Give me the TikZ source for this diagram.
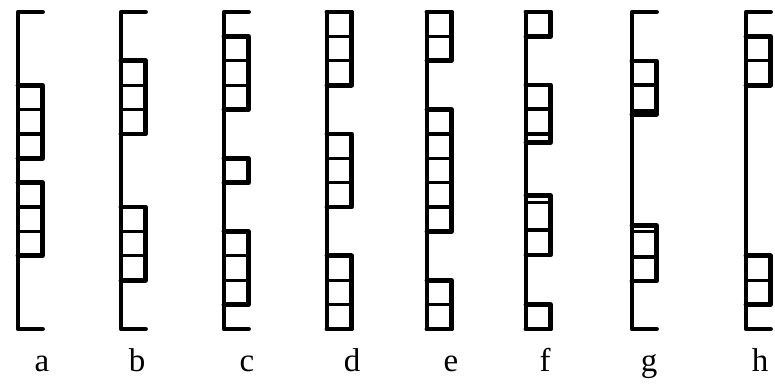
\documentclass[tikz,border=0pt]{standalone}
\usepackage{fontspec}
\newfontfamily\lblfont{Liberation Serif}
\usetikzlibrary{calc}
\tikzset{
  outl/.style={line width=4.8pt, line cap=round, line join=round, black},
  divl/.style={line width=3.2pt, black},
  lbl/.style={font=\lblfont\fontsize{33}{33}\selectfont, anchor=base, inner sep=0pt}
}
\newcommand\U{24.385}
\newcommand\W{24.5}
% spine: x
\newcommand\spine[1]{\draw[outl] ({#1+\W},12) -- (#1,12) -- (#1,329) -- ({#1+\W},329);}
% cell group by units: x, u1, u2
\newcommand\grp[3]{%
  \draw[outl] (#1,{12+#2*\U}) -- ({#1+\W},{12+#2*\U}) -- ({#1+\W},{12+#3*\U}) -- (#1,{12+#3*\U});
  \pgfmathtruncatemacro\ga{#2+1}\pgfmathtruncatemacro\gb{#3-1}%
  \ifnum\ga>\gb\else
  \foreach \k in {\ga,...,\gb} {\draw[divl] (#1,{12+\k*\U}) -- ({#1+\W},{12+\k*\U});}
  \fi}
% cell group by pixel coords: x, y1, y2, dividers list
\newcommand\grpp[4]{%
  \draw[outl] (#1,#2) -- ({#1+\W},#2) -- ({#1+\W},#3) -- (#1,#3);
  \foreach \d in {#4} {\draw[divl] (#1,\d) -- ({#1+\W},\d);}}
\begin{document}
\begin{tikzpicture}[x=1pt,y=-1pt]
\useasboundingbox (0,0) rectangle (775,384);
% a
\spine{18}\grp{18}{3}{6}\grp{18}{7}{10}
% b
\spine{121}\grp{121}{2}{5}\grp{121}{8}{11}
% c
\spine{224}\grp{224}{1}{4}\grp{224}{6}{7}\grp{224}{9}{12}
% d
\spine{327}\grp{327}{0}{3}\grp{327}{5}{8}\grp{327}{10}{13}
% e
\spine{427}\grp{427}{0}{2}\grp{427}{4}{9}\grp{427}{11}{13}
% f
\spine{526}\grp{526}{0}{1}
\grpp{526}{85}{142.5}{109,134}
\grpp{526}{195.5}{255}{202.5,230}
\grp{526}{12}{13}
% g
\spine{632}
\grpp{632}{61}{114.5}{85,111}
\grpp{632}{225.5}{281}{231.5,257}
% h
\spine{746}\grp{746}{1}{3}\grp{746}{10}{12}
% labels
\node[lbl] (la) at (42,371) {a};
\node[lbl] (lb) at (137,371) {b};
\node[lbl] (lc) at (247,371) {c};
\node[lbl] (ld) at (352,371) {d};
\node[lbl] (le) at (451,371) {e};
\node[lbl] (lf) at (545,371) {f};
\node[lbl] (lg) at (649,371) {g};
\node[lbl] (lh) at (760,371) {h};
\end{tikzpicture}
\end{document}
